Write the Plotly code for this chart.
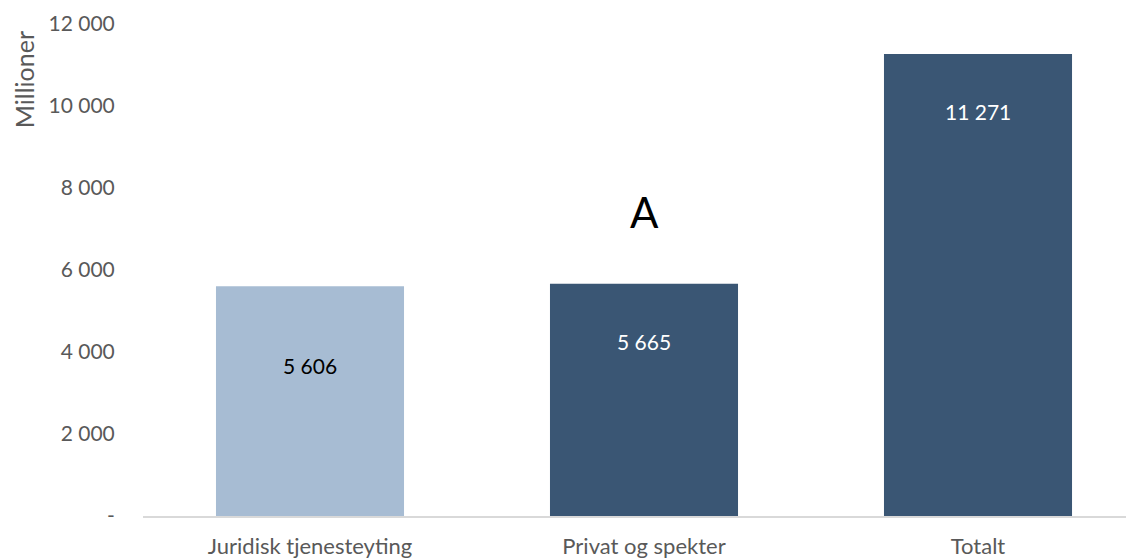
import plotly.graph_objects as go

categories = ["Juridisk tjenesteyting", "Privat og spekter", "Totalt"]
values = [5606, 5665, 11271]
value_labels = ["5 606", "5 665", "11 271"]
bar_colors = ["#A7BCD3", "#3A5674", "#3A5674"]
label_colors = ["#000000", "#FFFFFF", "#FFFFFF"]
label_shift = [-79, -58, -58]
tick_vals = [0, 2000, 4000, 6000, 8000, 10000, 12000]
tick_text = ["-", "2 000", "4 000", "6 000", "8 000", "10 000", "12 000"]

FONT = "Lato, Open Sans, sans-serif"
GREY = "#595959"

fig = go.Figure()
fig.add_trace(go.Bar(
    x=categories, y=values, marker=dict(color=bar_colors, line=dict(width=0)),
    width=0.563, hoverinfo="skip"
))

for c, v, t, col, sh in zip(categories, values, value_labels, label_colors, label_shift):
    fig.add_annotation(x=c, y=v, text=t, showarrow=False, yshift=sh,
                       font=dict(family=FONT, size=21, color=col))

fig.add_annotation(x=categories[1], y=values[1], text="A", showarrow=False, yshift=72,
                   font=dict(family=FONT, size=42, color="#000000"))

fig.add_annotation(xref="paper", yref="paper", x=-0.119, y=0.886, text="Millioner",
                   textangle=-90, showarrow=False, xanchor="center", yanchor="middle",
                   borderpad=0,
                   font=dict(family=FONT, size=25, color=GREY))

fig.update_layout(
    width=1134, height=560,
    margin=dict(l=135, r=0, t=16, b=52),
    paper_bgcolor="white", plot_bgcolor="white",
    showlegend=False,
    font=dict(family=FONT, size=21, color=GREY),
    xaxis=dict(range=[-0.5, 2.491], showgrid=False, showline=True, linecolor="#D9D9D9",
               linewidth=2, ticks="outside", ticklen=10, tickcolor="rgba(0,0,0,0)",
               tickfont=dict(size=22, color=GREY), fixedrange=True, automargin=False),
    yaxis=dict(range=[0, 12000], tickvals=tick_vals, ticktext=tick_text, showgrid=False,
               zeroline=False, showline=False, ticks="outside", ticklen=23,
               tickcolor="rgba(0,0,0,0)", tickfont=dict(size=21, color=GREY),
               fixedrange=True, automargin=False),
)

fig.write_html("out.html")
